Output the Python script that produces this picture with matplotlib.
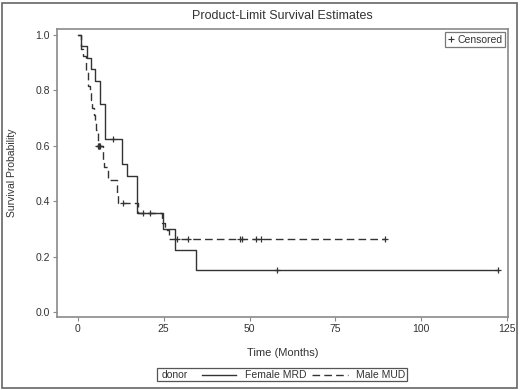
import numpy as np
import matplotlib
matplotlib.use('Agg')
import matplotlib.pyplot as plt
from matplotlib.lines import Line2D
from matplotlib.patches import Rectangle

plt.rcParams['font.family'] = ['Liberation Sans', 'DejaVu Sans']

# Female MRD (solid) - step times and survival
mrd_t = [0, 0.8, 2.7, 3.7, 5.0, 6.4, 7.9, 12.7, 14.2, 17.3, 24.8, 28.3, 34.4]
mrd_s = [1.0, 0.958, 0.917, 0.875, 0.833, 0.75, 0.625, 0.534, 0.492, 0.357, 0.299, 0.224, 0.152]
mrd_end = 122.4
mrd_cens = [10.1, 19.0, 21.0, 57.9, 122.4]

# Male MUD (dashed)
mud_t = [0, 0.8, 1.5, 2.4, 2.8, 3.4, 3.7, 4.2, 4.6, 5.0, 5.4, 5.8, 7.2, 7.6, 8.8,
         11.3, 11.7, 17.4, 24.4, 25.3, 26.6]
mud_s = [1.0, 0.947, 0.921, 0.868, 0.816, 0.789, 0.763, 0.737, 0.711, 0.684, 0.658,
         0.6, 0.55, 0.524, 0.477, 0.429, 0.395, 0.357, 0.32, 0.295, 0.263]
mud_end = 89.5
mud_cens = [5.9, 6.0, 6.1, 6.3, 13.2, 28.8, 32.0, 47.2, 47.9, 51.9, 53.4, 89.5]

xticks = [0, 25, 50, 75, 100, 125]
yticks = [0.0, 0.2, 0.4, 0.6, 0.8, 1.0]

line_col = '#333333'
frame_col = '#8a8a8a'
text_col = '#333333'


def surv_at(times, surv, t):
    i = np.searchsorted(times, t, side='right') - 1
    return np.array(surv)[i]


fig = plt.figure(figsize=(5.2, 3.9), dpi=100)
ax = fig.add_axes([57 / 520, 1 - 317 / 390, 451 / 520, 288 / 390])

# curves
ax.step(mrd_t + [mrd_end], mrd_s + [mrd_s[-1]], where='post', color=line_col, lw=1.0)
ax.step(mud_t + [mud_end], mud_s + [mud_s[-1]], where='post', color=line_col, lw=1.0,
        dashes=(5.5, 3))

# censor marks
ax.plot(mrd_cens, surv_at(mrd_t, mrd_s, mrd_cens), '+', color=line_col, ms=5, mew=0.9)
ax.plot(mud_cens, surv_at(mud_t, mud_s, mud_cens), '+', color=line_col, ms=5, mew=0.9)

ax.set_xlim(-6.1, 125.3)
ax.set_ylim(-0.017, 1.02)
ax.set_xticks(xticks)
ax.set_yticks(yticks)
ax.set_yticklabels(['%.1f' % v for v in yticks])
ax.tick_params(direction='out', length=3, width=0.8, color=frame_col,
               labelsize=7.5, labelcolor=text_col, pad=2)
for sp in ax.spines.values():
    sp.set_color(frame_col)
    sp.set_linewidth(1.2)

ax.set_xlabel('Time (Months)', fontsize=8, color=text_col)
ax.set_ylabel('Survival Probability', fontsize=7.5, color=text_col)
ax.xaxis.set_label_coords(0.5, -0.108)
ax.yaxis.set_label_coords(-0.089, 0.5)

# censored legend in the corner
h = Line2D([], [], marker='+', linestyle='none', color=line_col, ms=4, mew=0.8)
leg = ax.legend([h], ['Censored'], loc='upper right', fontsize=7.5, frameon=True,
                fancybox=False, handlelength=0.6, handletextpad=0.3, borderpad=0.25,
                borderaxespad=0.3)
leg.get_frame().set_edgecolor('#555555')
leg.get_frame().set_linewidth(0.9)
for t in leg.get_texts():
    t.set_color(text_col)

fig.text(282 / 520, 1 - 16 / 390, 'Product-Limit Survival Estimates', ha='center',
         va='center', fontsize=9, color=text_col)

# bottom legend
W, H = 520.0, 390.0
fig.patches.append(Rectangle((157 / W, 1 - 381 / H), 250 / W, 13 / H, transform=fig.transFigure,
                             fill=False, edgecolor='#555555', lw=0.9))
ly = 1 - 374.5 / H
fig.text(162 / W, ly, 'donor', fontsize=7.5, va='center', color=text_col)
fig.lines.append(Line2D([202 / W, 236 / W], [ly, ly], transform=fig.transFigure,
                        color=line_col, lw=1.0))
fig.text(245 / W, ly, 'Female MRD', fontsize=7.5, va='center', color=text_col)
fig.lines.append(Line2D([312 / W, 348 / W], [ly, ly], transform=fig.transFigure,
                        color=line_col, lw=1.0, dashes=(5.5, 3)))
fig.text(356 / W, ly, 'Male MUD', fontsize=7.5, va='center', color=text_col)

# outer frame
fig.patches.append(Rectangle((2 / W, 2 / H), 515 / W, 385 / H, transform=fig.transFigure,
                             fill=False, edgecolor='#666666', lw=1.2))

fig.savefig('out.png', dpi=100)
